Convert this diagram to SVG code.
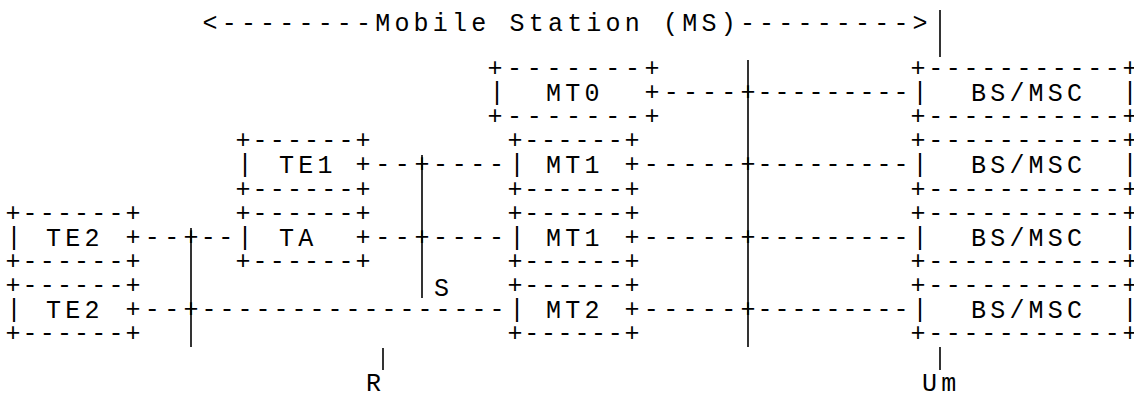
<svg xmlns="http://www.w3.org/2000/svg" width="1134" height="394" viewBox="0 0 1134 394">
<style>
.t{font-family:"Liberation Mono","DejaVu Sans Mono",monospace;font-size:25px;fill:#000}
.c{text-anchor:middle}
.l{letter-spacing:4.2px}
.ln{stroke:#000;stroke-width:1.6;fill:none}
</style>
<rect width="1134" height="394" fill="#fff"/>
<g id="title"><text class="t l" x="202.5" y="30.5" style="letter-spacing:4.19px">&lt;--------Mobile Station (MS)---------&gt;</text></g>

<g id="te1">
<text class="t c" y="148.3" x="243 260.1 277.3 294.4 311.6 328.7 345.9 363">+------+</text>
<text class="t c" x="245" y="172.4">|</text><text class="t l" x="279" y="173.4">TE1</text><text class="t c" x="363" y="172.4">+</text>
<text class="t c" y="196.5" x="243 260.1 277.3 294.4 311.6 328.7 345.9 363">+------+</text>
</g>
<g id="ta">
<text class="t c" y="220.6" x="243 260.1 277.3 294.4 311.6 328.7 345.9 363">+------+</text>
<text class="t c" x="245" y="244.7">|</text><text class="t l" x="279" y="245.7">TA</text><text class="t c" x="363" y="244.7">+</text>
<text class="t c" y="268.8" x="243 260.1 277.3 294.4 311.6 328.7 345.9 363">+------+</text>
</g>
<g id="te2a">
<text class="t c" y="220.6" x="13 30.1 47.3 64.4 81.6 98.7 115.9 133">+------+</text>
<text class="t c" x="14" y="244.7">|</text><text class="t l" x="46" y="245.7">TE2</text><text class="t c" x="133" y="244.7">+</text>
<text class="t c" y="268.8" x="13 30.1 47.3 64.4 81.6 98.7 115.9 133">+------+</text>
</g>
<g id="te2b">
<text class="t c" y="292.9" x="13 30.1 47.3 64.4 81.6 98.7 115.9 133">+------+</text>
<text class="t c" x="14" y="317">|</text><text class="t l" x="46" y="318">TE2</text><text class="t c" x="133" y="317">+</text>
<text class="t c" y="341.1" x="13 30.1 47.3 64.4 81.6 98.7 115.9 133">+------+</text>
</g>
<g id="mt0">
<text class="t c" y="76" x="495 514.6 534.3 553.9 573.5 593.1 612.8 632.4 652">+-------+</text>
<text class="t c" x="497" y="100.1">|</text><text class="t l" x="546" y="101.1">MT0</text><text class="t c" x="652" y="100.1">+</text>
<text class="t c" y="124.2" x="495 514.6 534.3 553.9 573.5 593.1 612.8 632.4 652">+-------+</text>
</g>
<g id="mt1a">
<text class="t c" y="148.3" x="515 531.7 548.4 565.1 581.9 598.6 615.3 632">+------+</text>
<text class="t c" x="517" y="172.4">|</text><text class="t l" x="546" y="173.4">MT1</text><text class="t c" x="632" y="172.4">+</text>
<text class="t c" y="196.5" x="515 531.7 548.4 565.1 581.9 598.6 615.3 632">+------+</text>
</g>
<g id="mt1b">
<text class="t c" y="220.6" x="515 531.7 548.4 565.1 581.9 598.6 615.3 632">+------+</text>
<text class="t c" x="517" y="244.7">|</text><text class="t l" x="546" y="245.7">MT1</text><text class="t c" x="632" y="244.7">+</text>
<text class="t c" y="268.8" x="515 531.7 548.4 565.1 581.9 598.6 615.3 632">+------+</text>
</g>
<g id="mt2">
<text class="t c" y="292.9" x="515 531.7 548.4 565.1 581.9 598.6 615.3 632">+------+</text>
<text class="t c" x="517" y="317">|</text><text class="t l" x="546" y="318">MT2</text><text class="t c" x="632" y="317">+</text>
<text class="t c" y="341.1" x="515 531.7 548.4 565.1 581.9 598.6 615.3 632">+------+</text>
</g>
<g id="bs0">
<text class="t c" y="76" x="918 935.7 953.3 971 988.7 1006.3 1024 1041.7 1059.3 1077 1094.7 1112.3 1130">+-----------+</text>
<text class="t c" x="920" y="100.1">|</text><text class="t l" x="971" y="101.1">BS/MSC</text><text class="t c" x="1130" y="100.1">|</text>
<text class="t c" y="124.2" x="918 935.7 953.3 971 988.7 1006.3 1024 1041.7 1059.3 1077 1094.7 1112.3 1130">+-----------+</text>
</g>
<g id="bs1">
<text class="t c" y="148.3" x="918 935.7 953.3 971 988.7 1006.3 1024 1041.7 1059.3 1077 1094.7 1112.3 1130">+-----------+</text>
<text class="t c" x="920" y="172.4">|</text><text class="t l" x="971" y="173.4">BS/MSC</text><text class="t c" x="1130" y="172.4">|</text>
<text class="t c" y="196.5" x="918 935.7 953.3 971 988.7 1006.3 1024 1041.7 1059.3 1077 1094.7 1112.3 1130">+-----------+</text>
</g>
<g id="bs2">
<text class="t c" y="220.6" x="918 935.7 953.3 971 988.7 1006.3 1024 1041.7 1059.3 1077 1094.7 1112.3 1130">+-----------+</text>
<text class="t c" x="920" y="244.7">|</text><text class="t l" x="971" y="245.7">BS/MSC</text><text class="t c" x="1130" y="244.7">|</text>
<text class="t c" y="268.8" x="918 935.7 953.3 971 988.7 1006.3 1024 1041.7 1059.3 1077 1094.7 1112.3 1130">+-----------+</text>
</g>
<g id="bs3">
<text class="t c" y="292.9" x="918 935.7 953.3 971 988.7 1006.3 1024 1041.7 1059.3 1077 1094.7 1112.3 1130">+-----------+</text>
<text class="t c" x="920" y="317">|</text><text class="t l" x="971" y="318">BS/MSC</text><text class="t c" x="1130" y="317">|</text>
<text class="t c" y="341.1" x="918 935.7 953.3 971 988.7 1006.3 1024 1041.7 1059.3 1077 1094.7 1112.3 1130">+-----------+</text>
</g>

<g id="connectors">
<text class="t c" y="100.1" x="671.2 690.4 709.6 728.8 748 765 782 799 816 833 850 867 884 901">----+---------</text>
<text class="t c" y="172.4" x="651.3 670.7 690 709.3 728.7 748 765 782 799 816 833 850 867 884 901">-----+---------</text>
<text class="t c" y="244.7" x="651.3 670.7 690 709.3 728.7 748 765 782 799 816 833 850 867 884 901">-----+---------</text>
<text class="t c" y="317" x="651.3 670.7 690 709.3 728.7 748 765 782 799 816 833 850 867 884 901">-----+---------</text>
<text class="t c" y="172.4" x="382.7 402.3 422 440.6 459.2 477.8 496.4">--+----</text>
<text class="t c" y="244.7" x="382.7 402.3 422 440.6 459.2 477.8 496.4">--+----</text>
<text class="t c" y="244.7" x="152.3 171.7 191 208.3 225.7">--+--</text>
<text class="t c" y="317" x="152.3 171.7 191 209 227 245 263 281 299 317 335 353 371 389 407 425 443 461 479 497">--+-----------------</text>
<line class="ln" x1="191" y1="228" x2="191" y2="347"/>
<line class="ln" x1="422" y1="155" x2="422" y2="298"/>
<line class="ln" x1="748" y1="60" x2="748" y2="347"/>
<line class="ln" x1="940" y1="10" x2="940" y2="57"/>
<line class="ln" x1="383" y1="348" x2="383" y2="370"/>
<line class="ln" x1="940" y1="347" x2="940" y2="370"/>
</g>
<g id="labels">
<text class="t" x="434" y="296">S</text>
<text class="t" x="366" y="391">R</text>
<text class="t l" x="922" y="391">Um</text>
</g>
</svg>
